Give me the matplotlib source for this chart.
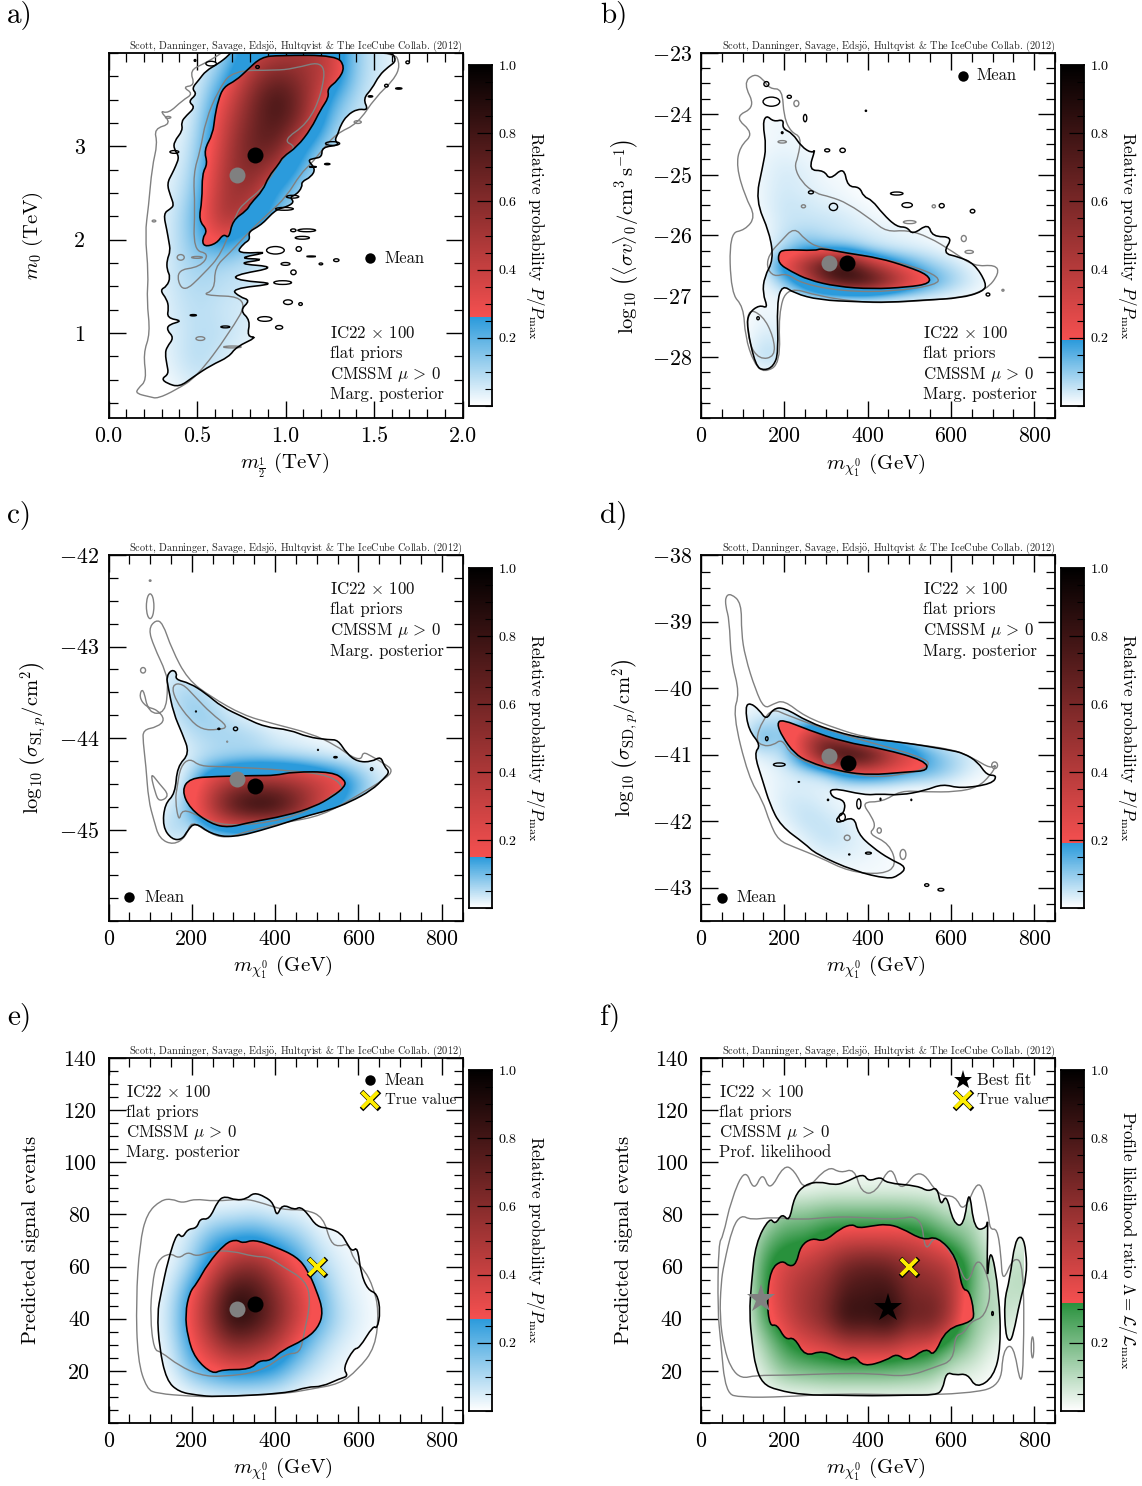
import numpy as np
import matplotlib
matplotlib.use('Agg')
import matplotlib.pyplot as plt
from matplotlib.colors import LinearSegmentedColormap
from matplotlib.path import Path
from matplotlib.patches import Ellipse, PathPatch
from matplotlib.ticker import MultipleLocator

plt.rcParams['font.family'] = ['cmr10', 'DejaVu Serif']
plt.rcParams['mathtext.fontset'] = 'cm'
plt.rcParams['axes.unicode_minus'] = False
plt.rcParams['axes.formatter.use_mathtext'] = True

GRAY = '#808080'
CREDIT = 'Scott, Danninger, Savage, Edsj$\\ddot{\\mathrm{o}}$, Hultqvist & The IceCube Collab. (2012)'

# ---------------- panel a -------------------------------------------------
A_OUTER = [(.40,.42),(.33,.46),(.30,.51),(.34,.56),(.33,.66),(.32,.78),(.33,.85),(.37,.95),(.33,1.03),(.34,1.09),(.42,1.13),(.33,1.16),(.34,1.27),(.33,1.36),(.29,1.46),(.33,1.5),(.35,1.6),(.33,1.68),(.33,1.78),(.35,1.88),(.34,1.99),(.33,2.1),(.31,2.28),(.35,2.33),(.37,2.37),(.35,2.47),(.33,2.6),(.36,2.71),(.38,2.79),(.40,2.89),(.37,2.97),(.37,3.05),(.42,3.17),(.41,3.26),(.44,3.33),(.49,3.42),(.45,3.48),(.50,3.56),(.47,3.62),(.51,3.71),(.55,3.81),(.62,3.885),(.68,3.975),(.70,4.03),(1.59,4.03),(1.63,3.92),(1.58,3.85),(1.529,3.76),(1.489,3.618),(1.438,3.51),(1.469,3.386),(1.408,3.403),(1.347,3.332),(1.31,3.22),(1.297,3.136),(1.277,3.064),(1.307,3.011),(1.206,2.993),(1.206,2.886),(1.16,2.87),(1.125,2.85),(1.17,2.76),(1.145,2.672),(1.09,2.62),(1.095,2.564),(1.06,2.48),(1.024,2.457),(1.05,2.40),(1.004,2.35),(.96,2.33),(.923,2.279),(.88,2.19),(.842,2.136),(.79,2.08),(.80,2.0),(.762,1.957),(.721,1.85),(.923,1.87),(.72,1.80),(.90,1.79),(.711,1.743),(.964,1.707),(.70,1.618),(.741,1.56),(.964,1.529),(.691,1.475),(.741,1.386),(.802,1.35),(.741,1.243),(.802,1.136),(.782,.958),(.842,.958),(.721,.85),(.681,.744),(.58,.655),(.479,.53)]
A_INNER = [(.539,1.922),(.529,2.011),(.56,2.1),(.509,2.207),(.529,2.421),(.529,2.707),(.56,2.814),(.539,2.957),(.59,3.136),(.6,3.314),(.62,3.493),(.65,3.636),(.721,3.707),(.782,3.814),(.863,3.957),(.964,3.975),(1.287,3.975),(1.337,3.85),(1.297,3.707),(1.236,3.618),(1.246,3.528),(1.196,3.386),(1.145,3.189),(1.065,2.993),(.984,2.886),(.964,2.814),(.903,2.672),(.873,2.529),(.802,2.386),(.782,2.314),(.701,2.207),(.681,2.011),(.65,2.064),(.61,1.957)]
A_GRAY_OUTER = [(.155,.351),(.166,.405),(.216,.494),(.196,.78),(.236,.993),(.216,1.351),(.226,1.636),(.206,2.065),(.226,2.35),(.246,2.779),(.277,3.029),(.257,3.189),(.358,3.243),(.287,3.386),(.337,3.35),(.418,3.493),(.479,3.564),(.418,3.636),(.489,3.653),(.459,3.814),(.539,3.885),(.62,3.975),(.66,4.03),(1.61,4.03),(1.65,3.868),(1.61,3.707),(1.509,3.528),(1.408,3.243),(1.287,3.136),(1.206,2.957),(1.145,2.814),(1.085,2.707),(1.004,2.457),(.903,2.279),(.802,2.1),(.681,1.85),(.6,1.707),(.6,1.458),(.519,1.404),(.802,1.386),(.681,.993),(.499,.53),(.378,.387),(.277,.297),(.236,.315)]
A_GRAY_INNER = [(.418,1.42),(.378,1.672),(.519,1.707),(.57,1.85),(.479,1.886),(.489,2.35),(.479,2.707),(.519,2.957),(.549,3.279),(.62,3.6),(.701,3.814),(.943,3.814),(1.044,3.832),(1.226,3.921),(1.206,3.564),(1.125,3.243),(.984,3.064),(1.065,2.993),(.984,2.886),(.883,2.564),(.762,2.386),(.721,2.279),(.64,1.85),(.539,1.636)]
A_ISLANDS = [(.994,2.33,.1,.03),(1.04,2.46,.07,.03),(1.044,2.1,.03,.03),(1.12,2.1,.1,.03),(1.095,2.02,.08,.03),(.943,1.886,.1,.08),(1.075,1.9,.03,.05),(1.145,1.82,.05,.01),(1.2,1.74,.02,.02),(1.287,1.78,.03,.03),(1.0,1.74,.05,.03),(1.045,1.65,.03,.05),(.984,1.54,.1,.04),(1.014,1.33,.05,.05),(.964,1.06,.04,.04),(.883,1.15,.08,.05),(1.085,1.31,.02,.03),(.66,1.065,.05,.02),(.479,1.19,.035,.015),(.372,2.94,.05,.03),(1.266,3.03,.08,.04),(1.236,2.81,.03,.015),(1.155,2.78,.04,.01),(1.64,3.62,.035,.015),(1.57,3.65,.02,.03),(1.48,3.535,.025,.015),(1.69,3.9,.02,.03),(.58,3.886,.06,.05),(.489,3.92,.01,.02),(.842,3.85,.02,.03)]
A_GRAY_ISLANDS = [(.408,1.81,.04,.06),(.519,.94,.05,.04),(.5,1.81,.06,.02),(1.408,3.26,.04,.03),(.337,3.31,.03,.02),(.257,2.2,.02,.02),(.7,.85,.1,.02)]
A_GRID_X = [.2,.35,.5,.65,.8,.95,1.1,1.25,1.4,1.55,1.7]
A_GRID_Y = [4.0,3.75,3.5,3.25,3.0,2.75,2.5,2.25,2.0,1.75,1.5,1.25,1.0,.75,.5,.25]
A_GRID = [[0,0,.03,.10,.35,.45,.50,.42,.10,.05,0],
          [0,0,.04,.18,.50,.68,.55,.40,.10,.05,0],
          [0,0,.05,.30,.60,.85,.60,.22,.08,.03,0],
          [0,.01,.07,.38,.65,.80,.55,.13,.07,.02,0],
          [0,.02,.09,.42,.70,.70,.25,.09,.04,0,0],
          [0,.03,.11,.48,.65,.45,.14,.07,.02,0,0],
          [0,.04,.14,.52,.55,.20,.10,.04,0,0,0],
          [0,.05,.18,.55,.40,.14,.07,.02,0,0,0],
          [0,.05,.18,.32,.14,.10,.04,.01,0,0,0],
          [0,.06,.13,.10,.08,.05,.02,0,0,0,0],
          [0,.06,.10,.08,.06,.02,0,0,0,0,0],
          [0,.05,.09,.06,.05,.01,0,0,0,0,0],
          [0,.04,.09,.08,.04,.01,0,0,0,0,0],
          [0,.04,.10,.05,.02,0,0,0,0,0,0],
          [0,.02,.07,.04,0,0,0,0,0,0,0],
          [0,0,.01,0,0,0,0,0,0,0,0]]

# ---------------- panel b -------------------------------------------------
B_OUTER = [(148,-24.16),(157,-24.02),(174,-24.13),(199,-24.09),(195,-24.24),(220,-24.32),(241,-24.54),(267,-24.65),(275,-24.57),(258,-24.93),(296,-24.93),(309,-25.09),(343,-24.87),(352,-25.2),(381,-25.2),(390,-25.36),(411,-25.42),(436,-25.64),(470,-25.86),(495,-25.86),(508,-25.99),(546,-25.8),(555,-26.02),(606,-26.02),(580,-26.29),(618,-26.35),(656,-26.46),(686,-26.79),(678,-26.92),(623,-27.03),(538,-27.06),(453,-27.1),(377,-27.09),(284,-27.06),(224,-26.95),(195,-26.81),(182,-27.11),(186,-27.93),(174,-28.15),(152,-28.22),(131,-28.15),(110,-27.5),(114,-27.28),(140,-27.14),(161,-27.2),(148,-26.95),(152,-26.68),(174,-26.4),(165,-25.96),(131,-25.42),(148,-24.87),(157,-24.54)]
B_INNER = [(186,-26.29),(199,-26.23),(275,-26.25),(288,-26.21),(351,-26.29),(428,-26.37),(495,-26.51),(546,-26.65),(551,-26.79),(495,-26.85),(411,-26.88),(326,-26.84),(258,-26.73),(216,-26.59),(186,-26.46)]
B_GRAY_OUTER = [(102,-23.5),(127,-23.34),(148,-23.42),(165,-23.59),(195,-23.59),(199,-24.05),(216,-24.3),(241,-24.38),(233,-24.71),(224,-24.87),(241,-25.12),(275,-25.31),(309,-25.36),(352,-25.47),(411,-25.75),(445,-25.94),(495,-25.91),(546,-26.02),(606,-26.27),(656,-26.51),(707,-26.48),(716,-26.62),(686,-26.89),(623,-27.03),(445,-27.11),(377,-27.09),(284,-27.0),(207,-26.84),(186,-27.28),(191,-28.1),(152,-28.26),(127,-28.1),(106,-27.66),(102,-27.17),(72,-26.95),(68,-25.96),(106,-25.91),(131,-25.69),(106,-25.36),(85,-24.87),(93,-24.54),(127,-24.32),(80,-24.05),(131,-23.89)]
B_GRAY_INNER = [(157,-26.51),(165,-26.29),(191,-26.1),(224,-25.86),(250,-26.07),(284,-26.21),(428,-26.37),(512,-26.51),(572,-26.68),(567,-26.81),(462,-26.92),(343,-26.92),(241,-26.79),(207,-26.62),(174,-26.68)]
B_GRAY_SPUR = [(110,-27.2),(148,-27.31),(174,-27.66),(178,-27.99),(140,-28.04),(114,-27.77)]
B_ISLANDS = [(157,-23.51,12,.08),(169,-23.8,40,.15),(212,-23.72,10,.05),(250,-24.07,8,.12),(303,-24.6,12,.05),(340,-24.6,13,.07),(318,-25.53,20,.12),(578,-25.51,12,.07),(652,-25.6,11,.06),(264,-25.29,12,.05),(689,-26.97,9,.05),(470,-25.31,30,.05),(495,-25.5,25,.08),(396,-23.95,3,.02),(195,-24.31,4,.03),(137,-27.36,6,.05)]
B_GRAY_ISLANDS = [(246,-25.52,10,.05),(559,-25.52,8,.05),(631,-26.05,12,.1),(644,-26.27,20,.05),(229,-23.83,12,.1),(195,-24.46,20,.04),(501,-25.78,30,.05),(725,-26.9,5,.03)]
B_GRID_X = [100,150,200,250,300,350,400,450,500,550,600,650,700]
B_GRID_Y = [-24.0,-24.25,-24.5,-24.75,-25.0,-25.25,-25.5,-25.75,-26.0,-26.25,-26.5,-26.75,-27.0,-27.25,-27.5,-27.75,-28.0,-28.25]
B_GRID = [[0,.01,.01,0,0,0,0,0,0,0,0,0,0],
          [0,.01,.02,.01,0,0,0,0,0,0,0,0,0],
          [0,.01,.02,.01,0,0,0,0,0,0,0,0,0],
          [0,.02,.03,.02,.01,0,0,0,0,0,0,0,0],
          [0,.02,.04,.03,.01,.01,0,0,0,0,0,0,0],
          [0,.02,.045,.03,.02,.01,0,0,0,0,0,0,0],
          [0,.02,.05,.045,.03,.02,.01,0,0,0,0,0,0],
          [0,.01,.05,.05,.05,.04,.02,.01,.01,0,0,0,0],
          [0,.01,.05,.09,.06,.05,.04,.03,.02,.01,0,0,0],
          [0,.01,.08,.18,.17,.15,.08,.05,.04,.03,.01,0,0],
          [0,.01,.25,.50,.80,.85,.50,.30,.18,.10,.06,.02,0],
          [0,.01,.10,.30,.65,.85,.85,.60,.35,.19,.10,.04,.01],
          [0,.01,.02,.04,.05,.05,.06,.05,.04,.03,.02,.01,0],
          [0,.02,.01,0,0,0,0,0,0,0,0,0,0],
          [0,.03,.02,0,0,0,0,0,0,0,0,0,0],
          [0,.05,.04,0,0,0,0,0,0,0,0,0,0],
          [0,.07,.05,0,0,0,0,0,0,0,0,0,0],
          [0,.01,.01,0,0,0,0,0,0,0,0,0,0]]

# ---------------- panel c -------------------------------------------------
C_OUTER = [(139,-43.33),(152,-43.25),(165,-43.29),(160,-43.36),(195,-43.4),(233,-43.51),(272,-43.66),(323,-43.77),(375,-43.88),(435,-43.91),(478,-43.99),(529,-44.02),(551,-44.02),(572,-44.17),(598,-44.26),(632,-44.26),(654,-44.2),(662,-44.31),(675,-44.37),(662,-44.44),(632,-44.57),(580,-44.7),(529,-44.79),(469,-44.86),(383,-44.99),(298,-45.09),(246,-45.05),(208,-44.92),(190,-45.01),(177,-45.11),(152,-45.11),(130,-44.97),(135,-44.72),(160,-44.61),(165,-44.31),(195,-44.17),(177,-43.95),(156,-43.73),(143,-43.44)]
C_INNER = [(176,-44.57),(195,-44.44),(255,-44.42),(358,-44.41),(400,-44.41),(443,-44.37),(538,-44.37),(568,-44.46),(568,-44.53),(538,-44.64),(495,-44.75),(426,-44.85),(340,-44.92),(289,-44.98),(246,-44.94),(195,-44.77)]
C_GRAY_OUTER = [(96,-42.81),(113,-42.71),(130,-42.74),(152,-43.03),(190,-43.36),(246,-43.55),(323,-43.75),(392,-43.84),(486,-43.95),(546,-44.08),(581,-44.2),(607,-44.24),(611,-44.15),(632,-44.2),(662,-44.28),(683,-44.35),(667,-44.44),(598,-44.63),(512,-44.85),(426,-44.92),(340,-45.01),(280,-45.1),(238,-45.03),(199,-44.9),(186,-45.08),(156,-45.17),(122,-45.1),(109,-44.9),(96,-44.68),(90,-44.31),(83,-44.04),(83,-43.91),(117,-43.88),(136,-43.8),(117,-43.69),(90,-43.66),(73,-43.55),(83,-43.44),(96,-43.73),(136,-43.73),(143,-43.44),(139,-43.29),(109,-43.0)]
C_GRAY_INNER = [(152,-43.42),(177,-43.4),(208,-43.55),(246,-43.73),(289,-43.88),(263,-43.91),(225,-43.91),(195,-43.8),(160,-43.58)]
C_GRAY_BAND = [(173,-44.31),(195,-44.22),(220,-44.31),(272,-44.31),(426,-44.35),(538,-44.41),(568,-44.57),(538,-44.61),(525,-44.68),(426,-44.9),(280,-44.97),(220,-44.86),(177,-44.77),(169,-44.92),(160,-44.68),(165,-44.53)]
C_GRAY_EDGE = [(100,-44.37),(122,-44.5),(147,-44.63),(122,-44.7),(112,-44.6)]
C_ISLANDS = [(305,-43.9,10,.04),(265,-43.9,5,.015),(210,-43.71,2,.01),(545,-44.21,8,.015),(503,-44.13,2,.01),(632,-44.34,6,.03)]
C_GRAY_ISLANDS = [(100,-42.56,18,.27),(83,-43.26,12,.06),(100,-42.28,4,.015),(285,-44.04,2,.01)]
C_GRID_X = [100,150,200,250,300,350,400,450,500,550,600,650,700]
C_GRID_Y = [-43.25,-43.5,-43.75,-44.0,-44.25,-44.5,-44.75,-45.0,-45.25]
C_GRID = [[0,.03,.01,0,0,0,0,0,0,0,0,0,0],
          [0,.05,.07,.03,0,0,0,0,0,0,0,0,0],
          [0,.03,.08,.07,.03,.01,0,0,0,0,0,0,0],
          [0,.01,.04,.06,.07,.06,.03,.02,.01,0,0,0,0],
          [0,0,.03,.05,.05,.06,.06,.05,.04,.03,.02,.01,0],
          [0,0,.07,.30,.45,.50,.50,.45,.35,.25,.12,.04,.02],
          [0,.03,.10,.45,.80,.95,.90,.65,.35,.13,.05,.01,0],
          [0,.07,.04,.09,.10,.09,.09,.07,.04,.01,0,0,0],
          [0,0,0,0,0,0,0,0,0,0,0,0,0]]

# ---------------- panel d -------------------------------------------------
D_OUTER = [(106,-40.28),(118,-40.22),(140,-40.33),(157,-40.48),(173,-40.31),(199,-40.29),(258,-40.51),(326,-40.66),(394,-40.76),(479,-40.81),(597,-40.93),(631,-40.98),(665,-41.11),(686,-41.31),(711,-41.31),(699,-41.44),(623,-41.51),(580,-41.44),(538,-41.54),(479,-41.61),(428,-41.59),(394,-41.61),(309,-41.49),(313,-41.64),(347,-41.69),(343,-41.89),(326,-41.94),(326,-42.04),(368,-41.92),(377,-42.19),(411,-42.39),(453,-42.57),(495,-42.69),(474,-42.82),(449,-42.87),(368,-42.75),(275,-42.49),(250,-42.34),(191,-42.07),(165,-41.74),(148,-41.39),(127,-40.98),(144,-40.86),(114,-40.63)]
D_INNER = [(182,-40.53),(195,-40.47),(258,-40.63),(343,-40.81),(436,-40.91),(538,-41.09),(546,-41.24),(495,-41.26),(402,-41.31),(326,-41.24),(258,-41.11),(224,-40.98),(195,-40.73)]
D_GRAY_OUTER = [(59,-38.62),(72,-38.58),(97,-38.72),(97,-39.17),(106,-39.53),(131,-40.03),(152,-40.31),(173,-40.24),(199,-40.18),(250,-40.43),(326,-40.61),(394,-40.74),(495,-40.83),(606,-40.92),(656,-41.06),(695,-41.21),(711,-41.14),(695,-41.31),(665,-41.49),(614,-41.56),(538,-41.56),(479,-41.54),(436,-41.71),(385,-41.71),(411,-41.94),(419,-42.09),(402,-42.19),(453,-42.34),(470,-42.67),(436,-42.8),(356,-42.76),(284,-42.54),(224,-42.39),(186,-42.29),(165,-42.02),(148,-41.69),(114,-41.34),(76,-40.38),(93,-40.08),(72,-39.58),(68,-38.97),(59,-38.77)]
D_GRAY_INNER = [(148,-40.48),(173,-40.31),(207,-40.41),(326,-40.68),(538,-41.04),(551,-41.19),(479,-41.31),(402,-41.34),(284,-41.19),(216,-41.01),(195,-40.76),(173,-40.86),(148,-40.87),(131,-40.78)]
D_ISLANDS = [(188,-41.15,28,.05),(379,-41.74,10,.15),(339,-41.94,15,.12),(542,-42.96,10,.04),(576,-43.03,14,.04),(158,-40.76,6,.06),(402,-42.48,14,.03),(235,-41.41,3,.01),(305,-41.68,3,.02),(431,-41.67,2,.03),(505,-41.68,2,.02),(356,-42.5,3,.015)]
D_GRAY_ISLANDS = [(705,-41.16,14,.1),(428,-42.14,10,.08),(485,-42.5,14,.15),(351,-42.25,14,.08)]
D_GRID_X = [100,150,200,250,300,350,400,450,500,550,600,650,700]
D_GRID_Y = [-40.25,-40.5,-40.75,-41.0,-41.25,-41.5,-41.75,-42.0,-42.25,-42.5,-42.75]
D_GRID = [[.01,.01,.01,0,0,0,0,0,0,0,0,0,0],
          [.02,.06,.08,.08,.04,.01,0,0,0,0,0,0,0],
          [.01,.17,.06,.35,.60,.30,.10,.05,.02,0,0,0,0],
          [0,.04,.05,.30,.75,.95,.85,.50,.30,.15,.08,.04,.01],
          [0,.01,.03,.05,.08,.25,.30,.25,.18,.15,.09,.03,.01],
          [0,.01,.03,.03,.02,.02,.01,.01,0,0,0,0,0],
          [0,0,.04,.05,.03,.01,0,0,0,0,0,0,0],
          [0,0,.02,.06,.05,.03,.01,0,0,0,0,0,0],
          [0,0,0,.03,.06,.04,.02,.01,0,0,0,0,0],
          [0,0,0,.01,.03,.03,.02,.01,0,0,0,0,0],
          [0,0,0,0,.01,.01,.01,.01,0,0,0,0,0]]

# ---------------- panel e -------------------------------------------------
E_OUTER = [(255,10),(426,11.3),(478,13.9),(512,13.9),(555,17),(576,18),(563,21),(589,28.6),(602,28.6),(636,37.5),(645,36),(653,42.7),(645,49.7),(623,51),(606,57.4),(598,67.6),(585,65.7),(572,69),(559,72.7),(530,74.7),(500,75.3),(478,80.4),(460,83),(447,81.7),(417,84),(404,79),(396,84.3),(376,86.8),(349,88.4),(332,86),(306,85.4),(280,87),(263,85.4),(242,78),(220,78.5),(212,74.7),(190,74.4),(177,70.8),(165,73.4),(143,62.5),(126,49.7),(117,42),(122,29),(139,16.4),(169,11.9),(212,10.7)]
E_INNER = [(250,18.7),(272,20.5),(340,20.5),(362,24),(388,23.8),(418,28),(469,31.8),(503,36.3),(516,42.7),(499,51),(478,58.7),(452,63.8),(400,67.6),(349,70.4),(323,68.9),(306,70.4),(280,68.9),(238,61),(212,53.5),(195,50.3),(184,42),(190,33),(208,24.7)]
E_GRAY_OUTER = [(92,13),(70,24),(66,47),(75,69),(92,80.4),(126,85.5),(152,86),(177,84.3),(207,86),(255,85),(323,86),(358,85),(418,81.7),(473,81.9),(516,79),(533,69),(555,67.6),(576,69),(589,62.5),(615,58.7),(636,52),(649,43.3),(641,29),(598,20.3),(555,15),(486,13),(426,11.3),(340,10.7),(255,10),(195,10.3),(117,11.3)]
E_GRAY_INNER = [(109,28),(100,40.7),(105,53.5),(117,62.5),(148,65.3),(169,63),(190,65.7),(212,63.8),(246,66),(298,66),(349,63.8),(383,63.8),(418,60),(473,54.8),(486,47),(469,34),(460,26.7),(426,26.7),(366,19.6),(272,17.7),(220,18.3),(169,22),(126,27.3)]
E_GRID_X = [100,150,200,250,300,350,400,450,500,550,600,650]
E_GRID_Y = [90,80,70,60,50,40,30,20,10]
E_GRID = [[0,0,0,0,0,0,0,0,0,0,0,0],
          [0,.01,.02,.05,.05,.07,.04,.04,.01,0,0,0],
          [0,.02,.08,.22,.28,.30,.22,.15,.06,.02,.01,0],
          [0,.03,.12,.35,.55,.60,.45,.28,.12,.05,.02,0],
          [.01,.06,.27,.55,.85,.80,.60,.40,.22,.07,.03,0],
          [.01,.08,.32,.60,.92,.85,.65,.42,.24,.10,.04,.01],
          [.01,.06,.26,.45,.60,.55,.45,.27,.12,.05,.02,0],
          [0,.03,.17,.25,.30,.30,.25,.12,.06,.02,.01,0],
          [0,0,0,.02,.02,.02,.02,.01,0,0,0,0]]

# ---------------- panel f -------------------------------------------------
F_OUTER = [(148,15.1),(131,21.5),(123,30.5),(116,42),(121,53.5),(131,69),(165,79),(178,76),(195,80.5),(212,77),(224,87),(250,91.5),(284,92.6),(318,91.3),(343,92),(390,95.8),(402,92.6),(432,94.5),(445,92),(521,91),(546,88.7),(567,90.7),(576,83),(589,88),(606,76.6),(631,75.3),(644,90.7),(656,74),(686,74.7),(689,79),(686,52),(695,69),(716,49.7),(720,29),(703,17.7),(661,13.2),(640,19),(610,18.3),(589,19.6),(580,12.6),(563,10.7),(495,10.7),(411,10.4),(326,10.7),(250,10.7),(182,12.6)]
F_SIDE = [(728,47),(741,54.8),(754,70),(771,72),(781,66),(782,56),(766,47),(750,34),(741,31),(731,34)]
F_INNER = [(167,59),(195,62.5),(212,60),(229,61),(239,68),(267,71),(296,69.5),(335,74.7),(364,76.3),(377,74.7),(411,75.6),(445,76.3),(479,75),(534,70),(567,71.7),(614,63.8),(627,51),(644,51),(656,42.7),(652,38.8),(589,36.3),(559,25.4),(542,29),(495,23.5),(470,26.7),(445,24),(390,21.5),(368,26),(347,23.5),(292,28),(250,25.4),(224,33),(203,31.8),(182,38),(165,37),(158,47)]
F_GRAY_OUTER = [(59,11.3),(47,31.8),(40,43),(42,69),(53,71.5),(72,85.5),(106,98),(127,88.7),(148,96.4),(165,88.7),(199,99),(224,97),(250,88.7),(305,98.7),(335,95.8),(368,97.7),(385,88.3),(419,88),(457,99.6),(478,88),(525,98.3),(572,86.8),(610,87.4),(631,80.4),(669,95),(690,80.4),(694,74),(711,74.7),(720,65),(724,53.5),(750,63.8),(775,61),(775,24),(768,13.6),(750,30.5),(725,28),(720,14),(640,11.3),(495,10.7),(326,11.3),(199,10),(97,9.8)]
F_GRAY_INNER = [(55,61),(76,75.3),(97,79.8),(119,77.9),(174,79),(241,77.9),(309,79),(377,79),(462,77.9),(529,79.8),(538,65),(563,72.7),(614,62.5),(640,52),(665,65),(699,52),(682,40.7),(648,39),(631,34.3),(610,33.7),(606,24),(563,21.5),(495,17.7),(411,19),(326,19),(207,18.3),(131,18.3),(97,17),(72,21),(55,29),(45,40.7),(48,53.5)]
F_ISLANDS = [(700,42,4,1.5)]
F_GRAY_ISLANDS = [(796,29,6,8)]
F_GRID_X = [100,150,200,250,300,350,400,450,500,550,600,650,700,750]
F_GRID_Y = [90,80,70,60,50,40,30,20,10]
F_GRID = [[0,0,.01,.01,.02,.02,.02,.02,.02,.02,.01,0,0,0],
          [0,.06,.17,.17,.21,.21,.21,.21,.20,.17,.08,.12,0,0],
          [0,.20,.29,.30,.38,.42,.42,.42,.42,.35,.25,.15,.02,.04],
          [0,.28,.42,.48,.55,.70,.75,.72,.60,.55,.50,.25,.06,.10],
          [0,.28,.45,.55,.62,.80,.80,.85,.65,.65,.55,.20,.08,.10],
          [0,.25,.42,.55,.65,.90,.85,.95,.70,.75,.55,.15,.12,.05],
          [0,.12,.29,.38,.42,.50,.50,.50,.42,.40,.24,.15,.04,0],
          [0,.06,.18,.20,.22,.22,.22,.22,.20,.18,.07,.05,.01,0],
          [0,0,0,0,.01,.01,.01,.01,.01,.01,0,0,0,0]]

MASS_TICKS = [0, 200, 400, 600, 800]
MASS_LABELS = ['0', '200', '400', '600', '800']
M12_TICKS = [0.0, 0.5, 1.0, 1.5, 2.0]
M12_LABELS = ['0.0', '0.5', '1.0', '1.5', '2.0']
EVENT_TICKS = [20, 40, 60, 80, 100, 120, 140]
CB_TICKS = [0.2, 0.4, 0.6, 0.8, 1.0]
CB_LABELS = ['0.2', '0.4', '0.6', '0.8', '1.0']

BLUE = (43/255, 155/255, 220/255)
GREEN = (40/255, 145/255, 60/255)
RED = (245/255, 80/255, 80/255)

W, H = 1142, 1486
fig = plt.figure(figsize=(W/100, H/100), dpi=100)
fig.patch.set_facecolor('white')


def px_axes(l, t, r, b):
    return fig.add_axes([l/W, 1-b/H, (r-l)/W, (b-t)/H])


def ftext(x, y, s, **kw):
    return fig.text(x/W, 1-y/H, s, **kw)


def curve_path(*polys):
    """Closed path that uses the read vertices as quadratic control points."""
    verts, codes = [], []
    for p in polys:
        p = np.asarray(p, float)
        mids = (p + np.roll(p, -1, axis=0)) / 2
        verts.append(mids[-1][None, :])
        codes.append(Path.MOVETO)
        for i in range(len(p)):
            verts.append(np.vstack([p[i], mids[i]]))
            codes += [Path.CURVE3, Path.CURVE3]
    return Path(np.vstack(verts), codes)


def panel(box, cbbox, letter, letter_xy, xlim, ylim, xminor, yminor, xticks, xlabels, yticks, ylabels,
          grid, gx, gy, thr, low, outer, inner, gray, islands, gray_islands, notes, note_xy, note_step,
          xlabel, xlabel_xy, ylabel, ylabel_xy, cblabel, cblabel_xy):
    ax = px_axes(*box)
    g = np.asarray(grid, float)
    dx = gx[1]-gx[0]
    dy = abs(gy[1]-gy[0])
    ext = (gx[0]-dx/2, gx[-1]+dx/2, gy[-1]-dy/2, gy[0]+dy/2)
    lowc = LinearSegmentedColormap.from_list('l', ['white', low])
    highc = LinearSegmentedColormap.from_list('h', [RED, 'black'])
    im1 = ax.imshow(g, extent=ext, cmap=lowc, vmin=0, vmax=thr, aspect='auto', interpolation='bicubic', zorder=1)
    im1.set_clip_path(PathPatch(curve_path(*outer), transform=ax.transData))
    im2 = ax.imshow(g, extent=ext, cmap=highc, vmin=thr, vmax=1, aspect='auto', interpolation='bicubic', zorder=2)
    im2.set_clip_path(PathPatch(curve_path(inner), transform=ax.transData))
    for p in gray:
        ax.add_patch(PathPatch(curve_path(p), fill=False, ec=GRAY, lw=1.0, zorder=3))
    for p in outer + [inner]:
        ax.add_patch(PathPatch(curve_path(p), fill=False, ec='black', lw=1.15, zorder=4))
    for (x, y, w, h) in gray_islands:
        ax.add_patch(Ellipse((x, y), w, h, fill=False, ec=GRAY, lw=1.0, zorder=3))
    for (x, y, w, h) in islands:
        ax.add_patch(Ellipse((x, y), w, h, fill=False, ec='black', lw=1.0, zorder=4))
    ax.set_xlim(*xlim)
    ax.set_ylim(*ylim)
    ax.set_xticks(xticks)
    ax.set_xticklabels(xlabels)
    ax.set_yticks(yticks)
    ax.set_yticklabels(ylabels)
    ax.xaxis.set_minor_locator(MultipleLocator(xminor))
    ax.yaxis.set_minor_locator(MultipleLocator(yminor))
    ax.tick_params(which='major', direction='in', top=True, right=True, length=12, width=1.0, labelsize=15.8)
    ax.tick_params(axis='x', which='major', pad=6)
    ax.tick_params(axis='y', which='major', pad=21)
    for t in ax.get_yticklabels():
        t.set_ha('center')
    ax.tick_params(which='minor', direction='in', top=True, right=True, length=6.5, width=0.9)
    for s in ax.spines.values():
        s.set_linewidth(1.3)
        s.set_zorder(10)
    ax.text(1.0, 0.9985, CREDIT, transform=ax.transAxes, ha='right', va='bottom', fontsize=7.4, color='#222222')
    for i, line in enumerate(notes):
        ax.text(note_xy[0], note_xy[1]-i*note_step, line, transform=ax.transAxes, ha='left', va='center', fontsize=12.1, color='#111111', zorder=6)
    ftext(letter_xy[0], letter_xy[1], letter, fontsize=21, ha='left', va='center')
    ftext(xlabel_xy[0], xlabel_xy[1], xlabel, fontsize=15, ha='center', va='center')
    ftext(ylabel_xy[0], ylabel_xy[1], ylabel, fontsize=14.8, ha='center', va='center', rotation=90)

    cax = px_axes(*cbbox)
    cm = LinearSegmentedColormap.from_list('c', [(0, 'white'), (thr, low), (thr, RED), (1, 'black')], N=512)
    cax.imshow(np.linspace(1, 0, 512)[:, None], cmap=cm, vmin=0, vmax=1, extent=(0, 1, 0, 1), aspect='auto', interpolation='nearest')
    cax.set_xticks([])
    cax.yaxis.tick_right()
    cax.set_yticks(CB_TICKS)
    cax.set_yticklabels(CB_LABELS)
    cax.yaxis.set_minor_locator(MultipleLocator(0.05))
    cax.tick_params(which='major', direction='in', length=10.5, width=0.9, labelsize=10.2, pad=5)
    cax.tick_params(which='minor', direction='in', length=5, width=0.8)
    for s in cax.spines.values():
        s.set_linewidth(1.3)
    ftext(cblabel_xy[0], cblabel_xy[1], cblabel, fontsize=12.2, rotation=270, ha='center', va='center')
    return ax


def dot(ax, x, y, color='black', ms=11.5, z=7):
    ax.plot([x], [y], 'o', color=color, ms=ms, mew=0, zorder=z)


def cross(ax, x, y, ms=12):
    ax.plot([x], [y], marker='x', color='black', ms=ms+1.2, mew=3.6, zorder=8)
    ax.plot([x], [y], marker='x', color='#ffee00', ms=ms, mew=2.8, zorder=9)


NOTES_POST = ['IC22$\\,\\times\\,$100', 'flat priors', 'CMSSM $\\mu\\,>\\,0$', 'Marg. posterior']
NOTES_PROF = ['IC22$\\,\\times\\,$100', 'flat priors', 'CMSSM $\\mu\\,>\\,0$', 'Prof. likelihood']
MCHI = '$m_{\\chi^0_1}$ (GeV)'
CB_POST = 'Relative probability $P/P_{\\mathrm{max}}$'
CB_PROF = 'Profile likelihood ratio $\\Lambda = \\mathcal{L}/\\mathcal{L}_{\\mathrm{max}}$'

a = panel((108.5, 53, 462.5, 418), (469, 65, 492, 406), 'a)', (7, 15), (0, 2), (.089, 4.0), .1, .25,
          M12_TICKS, M12_LABELS, [1, 2, 3], ['1', '2', '3'],
          A_GRID, A_GRID_X, A_GRID_Y, .26, BLUE, [A_OUTER], A_INNER, [A_GRAY_OUTER, A_GRAY_INNER], A_ISLANDS, A_GRAY_ISLANDS,
          NOTES_POST, (.626, .233), .0565, '$m_{\\frac{1}{2}}$ (TeV)', (285, 465), '$m_0$ (TeV)', (33, 236), CB_POST, (535, 236))
dot(a, .83, 2.91); dot(a, .725, 2.69, GRAY)
dot(a, 1.48, 1.8, ms=7.5)
a.text(1.56, 1.8, 'Mean', fontsize=12, va='center', color='#111111')

YB = [-28, -27, -26, -25, -24, -23]
b = panel((701, 53, 1055, 418), (1061, 65, 1084, 406), 'b)', (600, 15), (0, 850), (-29, -23), 50, .25,
          MASS_TICKS, MASS_LABELS, YB, ['$%d$' % v for v in YB],
          B_GRID, B_GRID_X, B_GRID_Y, .193, BLUE, [B_OUTER], B_INNER, [B_GRAY_OUTER, B_GRAY_INNER, B_GRAY_SPUR], B_ISLANDS, B_GRAY_ISLANDS,
          NOTES_POST, (.627, .233), .0565, MCHI, (876, 465),
          '$\\log_{10}\\,\\left(\\langle\\sigma v\\rangle_0/\\mathrm{cm}^3\\,\\mathrm{s}^{-1}\\right)$', (625, 236), CB_POST, (1127, 236))
dot(b, 350, -26.46); dot(b, 308, -26.46, GRAY)
dot(b, 628, -23.37, ms=7.5)
b.text(661, -23.37, 'Mean', fontsize=12, va='center', color='#111111')

YC = [-45, -44, -43, -42]
c = panel((108.5, 555, 462.5, 921), (469, 568, 492, 908), 'c)', (7, 515), (0, 850), (-46, -42), 50, .25,
          MASS_TICKS, MASS_LABELS, YC, ['$%d$' % v for v in YC],
          C_GRID, C_GRID_X, C_GRID_Y, .149, BLUE, [C_OUTER], C_INNER, [C_GRAY_OUTER, C_GRAY_INNER, C_GRAY_BAND, C_GRAY_EDGE], C_ISLANDS, C_GRAY_ISLANDS,
          NOTES_POST, (.627, .907), .0565, MCHI, (283, 967),
          '$\\log_{10}\\,\\left(\\sigma_{\\mathrm{SI},p}/\\mathrm{cm}^2\\right)$', (33, 738), CB_POST, (535, 738))
dot(c, 352, -44.52); dot(c, 308, -44.45, GRAY)
dot(c, 50, -45.74, ms=7.5)
c.text(86, -45.74, 'Mean', fontsize=12, va='center', color='#111111')

YD = [-43, -42, -41, -40, -39, -38]
d = panel((701, 555, 1055, 921), (1061, 568, 1084, 908), 'd)', (600, 515), (0, 850), (-43.5, -38), 50, .25,
          MASS_TICKS, MASS_LABELS, YD, ['$%d$' % v for v in YD],
          D_GRID, D_GRID_X, D_GRID_Y, .19, BLUE, [D_OUTER], D_INNER, [D_GRAY_OUTER, D_GRAY_INNER], D_ISLANDS, D_GRAY_ISLANDS,
          NOTES_POST, (.627, .907), .0565, MCHI, (876, 967),
          '$\\log_{10}\\,\\left(\\sigma_{\\mathrm{SD},p}/\\mathrm{cm}^2\\right)$', (625, 738), CB_POST, (1127, 738))
dot(d, 352, -41.13); dot(d, 308, -41.02, GRAY)
dot(d, 50, -43.15, ms=7.5)
d.text(85, -43.15, 'Mean', fontsize=12, va='center', color='#111111')

e = panel((108.5, 1058, 462.5, 1423), (469, 1070, 492, 1411), 'e)', (7, 1017), (0, 850), (0, 140), 50, 5,
          MASS_TICKS, MASS_LABELS, EVENT_TICKS, [str(v) for v in EVENT_TICKS],
          E_GRID, E_GRID_X, E_GRID_Y, .269, BLUE, [E_OUTER], E_INNER, [E_GRAY_OUTER, E_GRAY_INNER], [], [],
          NOTES_POST, (.05, .907), .0553, MCHI, (283, 1469),
          'Predicted signal events', (31, 1240), CB_POST, (535, 1240))
dot(e, 352, 45.5); dot(e, 308, 43.8, GRAY)
cross(e, 500, 60)
dot(e, 628, 131.6, ms=7.5)
cross(e, 628, 124)
e.text(663, 131.6, 'Mean', fontsize=12, va='center', color='#111111')
e.text(663, 124, 'True value', fontsize=10.8, va='center', color='#111111')

f = panel((701, 1058, 1055, 1423), (1061, 1070, 1084, 1411), 'f)', (600, 1017), (0, 850), (0, 140), 50, 5,
          MASS_TICKS, MASS_LABELS, EVENT_TICKS, [str(v) for v in EVENT_TICKS],
          F_GRID, F_GRID_X, F_GRID_Y, .317, GREEN, [F_OUTER, F_SIDE], F_INNER, [F_GRAY_OUTER, F_GRAY_INNER], F_ISLANDS, F_GRAY_ISLANDS,
          NOTES_PROF, (.05, .907), .0553, MCHI, (876, 1469),
          'Predicted signal events', (624, 1240), CB_PROF, (1127, 1240))
f.plot([145], [47.5], marker='*', color=GRAY, ms=21, mew=0, zorder=7)
f.plot([450], [44], marker='*', color='black', ms=21, mew=0, zorder=7)
cross(f, 500, 60)
f.plot([628], [131.6], marker='*', color='black', ms=14, mew=0, zorder=7)
cross(f, 628, 124)
f.text(663, 131.6, 'Best fit', fontsize=12, va='center', color='#111111')
f.text(663, 124, 'True value', fontsize=10.8, va='center', color='#111111')

fig.savefig('out.png', dpi=100)
